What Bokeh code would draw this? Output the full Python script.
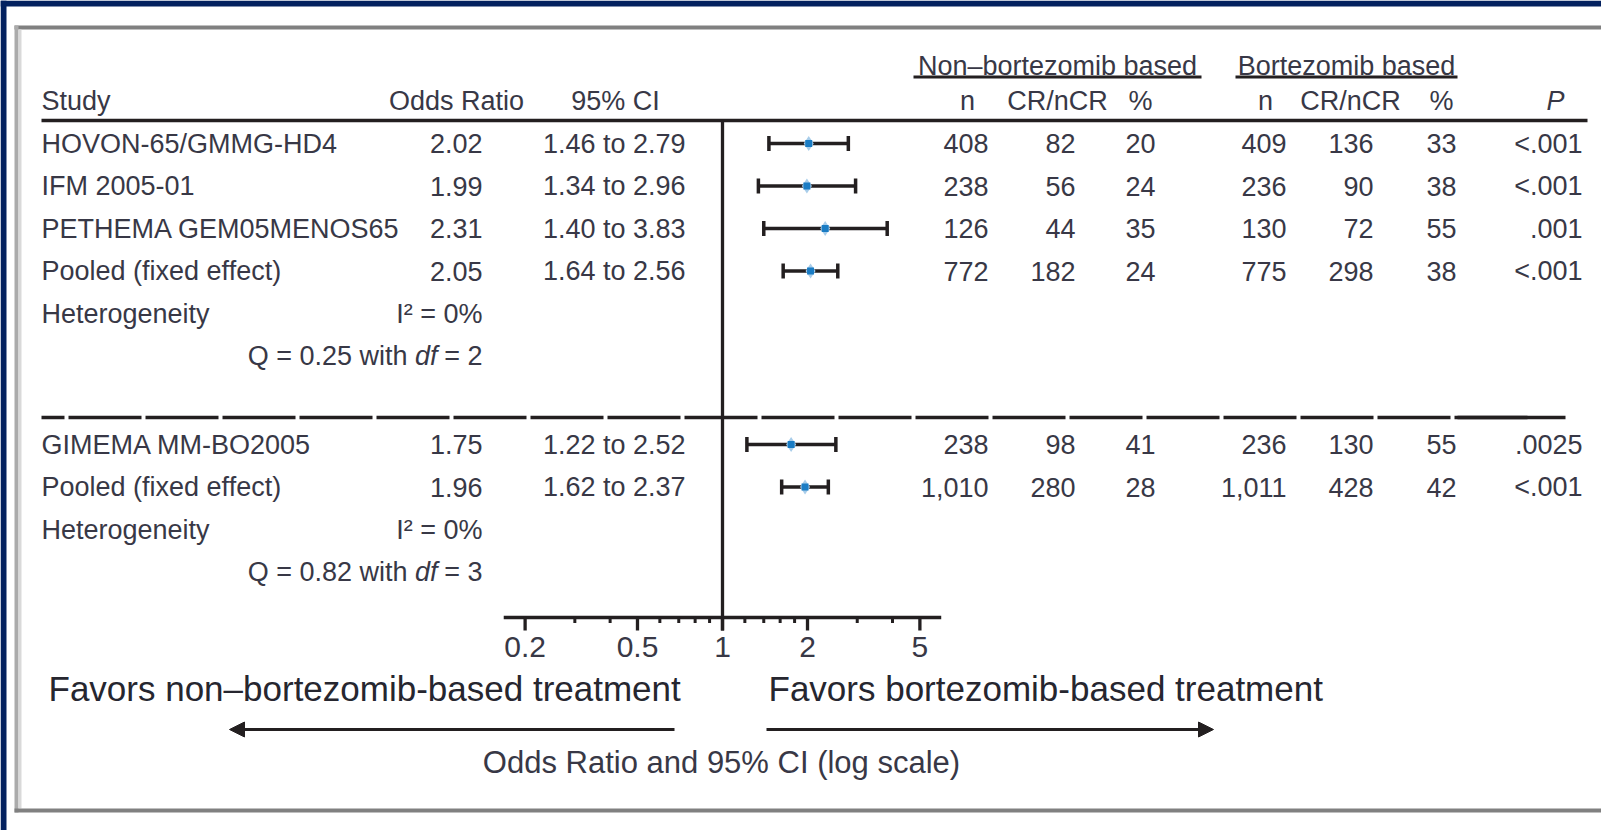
from bokeh.plotting import figure
from bokeh.models import Range1d, LinearScale, Arrow, NormalHead
from bokeh.core.properties import value
from bokeh.embed import file_html
from bokeh.resources import INLINE

# ---------------- data ----------------
studies = ["HOVON-65/GMMG-HD4", "IFM 2005-01", "PETHEMA GEM05MENOS65",
           "Pooled (fixed effect)", "GIMEMA MM-BO2005", "Pooled (fixed effect)"]
odds_ratio = [2.02, 1.99, 2.31, 2.05, 1.75, 1.96]
ci_low = [1.46, 1.34, 1.40, 1.64, 1.22, 1.62]
ci_high = [2.79, 2.96, 3.83, 2.56, 2.52, 2.37]
non_n = ["408", "238", "126", "772", "238", "1,010"]
non_cr = ["82", "56", "44", "182", "98", "280"]
non_pct = ["20", "24", "35", "24", "41", "28"]
bor_n = ["409", "236", "130", "775", "236", "1,011"]
bor_cr = ["136", "90", "72", "298", "130", "428"]
bor_pct = ["33", "38", "55", "38", "55", "42"]
p_values = ["<.001", "<.001", ".001", "<.001", ".0025", "<.001"]
het_i2 = ["I\u00b2 = 0%", "I\u00b2 = 0%"]
het_q = ["Q = 0.25 with", "Q = 0.82 with"]
het_df = ["= 2", "= 3"]
major_ticks = [0.2, 0.5, 1, 2, 5]
tick_labels = ["0.2", "0.5", "1", "2", "5"]
minor_ticks = [0.3, 0.4, 0.6, 0.7, 0.8, 0.9, 1.2, 1.4, 1.6, 1.8, 3, 4]
axis_bounds = [0.168, 5.95]
null_value = 1

# ---------------- layout ----------------
W, H = 1601, 830
X1 = 722.0          # pixel of OR = 1
DEC = 282.4         # pixels per decade
row_y = [143, 185.5, 228, 270.5, 444, 486.5]
het_i2_y = [313, 529]
het_q_y = [355.5, 571.5]
TEXT = "#383846"
DARK = "#26262f"
LINE = "#231f20"
F = "Liberation Sans"
FS = "27px"

p = figure(width=W, height=H, x_axis_type="log",
           x_range=Range1d(10 ** (-X1 / DEC), 10 ** ((W - X1) / DEC)),
           y_range=Range1d(H, 0), output_backend="svg", toolbar_location=None,
           x_axis_location=None, y_axis_location=None, min_border=0)
p.extra_x_ranges = {"px": Range1d(0, W)}
p.extra_x_scales = {"px": LinearScale()}
p.grid.visible = False
p.outline_line_color = None
p.background_fill_color = "white"
p.border_fill_color = "white"


def box(l, r, t, b, c):
    p.quad(left=l, right=r, top=t, bottom=b, fill_color=c, line_color=None, x_range_name="px")


# page frame
box(0, W, 0, 6, "#03215f")
box(0, 6, 0, H, "#03215f")
box(14, W, 25, 29, "#808080")
box(14, 18, 25, 812, "#ababab")
box(18, 21, 29, 808, "#d9d9d9")
box(14, W, 808, 812, "#808080")


def txt(xs, ys, texts, align="right", size=FS, font=F, color=TEXT, style="normal"):
    p.text(x=xs, y=ys, text=texts, x_range_name="px", text_align=align,
           text_baseline="alphabetic", text_font=value(font), text_font_size=size,
           text_color=color, text_font_style=style)


# group titles
txt([1057, 1346], [65, 65], ["Non\u2013bortezomib based", "Bortezomib based"], align="center")
p.segment(x0=[913, 1235], x1=[1201, 1457], y0=[76.5, 76.5], y1=[76.5, 76.5],
          line_width=3, line_color=LINE, x_range_name="px")

# column headers
hy = 100
txt([41], [hy], ["Study"], align="left")
txt([456, 615, 967, 1057, 1140, 1265, 1350, 1441], [hy] * 8,
    ["Odds Ratio", "95% CI", "n", "CR/nCR", "%", "n", "CR/nCR", "%"], align="center")
txt([1555], [hy], ["P"], align="center", style="italic")
p.line(x=[41, 1587], y=[120, 120], line_width=3.5, line_color=LINE, x_range_name="px")

# table body
txt([41] * 6, row_y, studies, align="left")
txt([482] * 6, row_y, ["%.2f" % v for v in odds_ratio])
txt([685] * 6, row_y, ["%.2f to %.2f" % (a, b) for a, b in zip(ci_low, ci_high)])
for xr, col in [(988, non_n), (1075, non_cr), (1155, non_pct), (1286, bor_n),
                (1373, bor_cr), (1456, bor_pct), (1582, p_values)]:
    txt([xr] * 6, row_y, col)

# heterogeneity
txt([41, 41], het_i2_y, ["Heterogeneity", "Heterogeneity"], align="left")
txt([482, 482], het_i2_y, het_i2)
txt([482, 482], het_q_y, het_df)
txt([437, 437], het_q_y, ["df", "df"], style="italic")
txt([407, 407], het_q_y, het_q)

# dashed separator
p.line(x=[41, 1530], y=[417, 417], line_width=3.5, line_color=LINE,
       line_dash="73 4", line_dash_offset=50, x_range_name="px")
p.line(x=[1457, 1565], y=[417, 417], line_width=3.5, line_color=LINE, x_range_name="px")

# forest plot
p.segment(x0=ci_low, x1=ci_high, y0=row_y, y1=row_y, line_width=3.5, line_color=LINE)
p.segment(x0=ci_low, x1=ci_low, y0=[y - 7.5 for y in row_y], y1=[y + 7.5 for y in row_y],
          line_width=3.5, line_color=LINE)
p.segment(x0=ci_high, x1=ci_high, y0=[y - 7.5 for y in row_y], y1=[y + 7.5 for y in row_y],
          line_width=3.5, line_color=LINE)
p.scatter(x=odds_ratio, y=row_y, marker="diamond", size=15, fill_color="#a8cdea", line_color=None)
p.scatter(x=odds_ratio, y=row_y, marker="square", size=7, fill_color="#1a7cc4", line_color=None)

# null line and log axis
AX = 617
p.segment(x0=[null_value], x1=[null_value], y0=[120], y1=[AX + 13], line_width=3.3, line_color=LINE)
p.line(x=axis_bounds, y=[AX, AX], line_width=3.3, line_color=LINE)
p.segment(x0=major_ticks, x1=major_ticks, y0=[AX] * 5, y1=[AX + 13] * 5, line_width=3.3, line_color=LINE)
p.segment(x0=minor_ticks, x1=minor_ticks, y0=[AX] * len(minor_ticks), y1=[AX + 5.5] * len(minor_ticks),
          line_width=3, line_color=LINE)
p.text(x=major_ticks, y=[646] * 5, text=tick_labels, text_align="center", text_baseline="alphabetic",
       text_font=value(F), text_font_size="30px", text_color=TEXT)

# favors labels and arrows
txt([48], [688], ["Favors non\u2013bortezomib-based treatment"], align="left", size="35px", color=DARK)
txt([768], [688], ["Favors bortezomib-based treatment"], align="left", size="35px", color=DARK)
p.add_layout(Arrow(x_start=674, y_start=729, x_end=229, y_end=729, x_range_name="px",
                   line_width=3, line_color=LINE,
                   end=NormalHead(size=15, fill_color=LINE, line_color=LINE, line_width=1)))
p.add_layout(Arrow(x_start=766, y_start=729, x_end=1213, y_end=729, x_range_name="px",
                   line_width=3, line_color=LINE,
                   end=NormalHead(size=15, fill_color=LINE, line_color=LINE, line_width=1)))
txt([721], [762], ["Odds Ratio and 95% CI (log scale)"], align="center", size="31px")

open("out.html", "w").write(file_html(p, INLINE))
